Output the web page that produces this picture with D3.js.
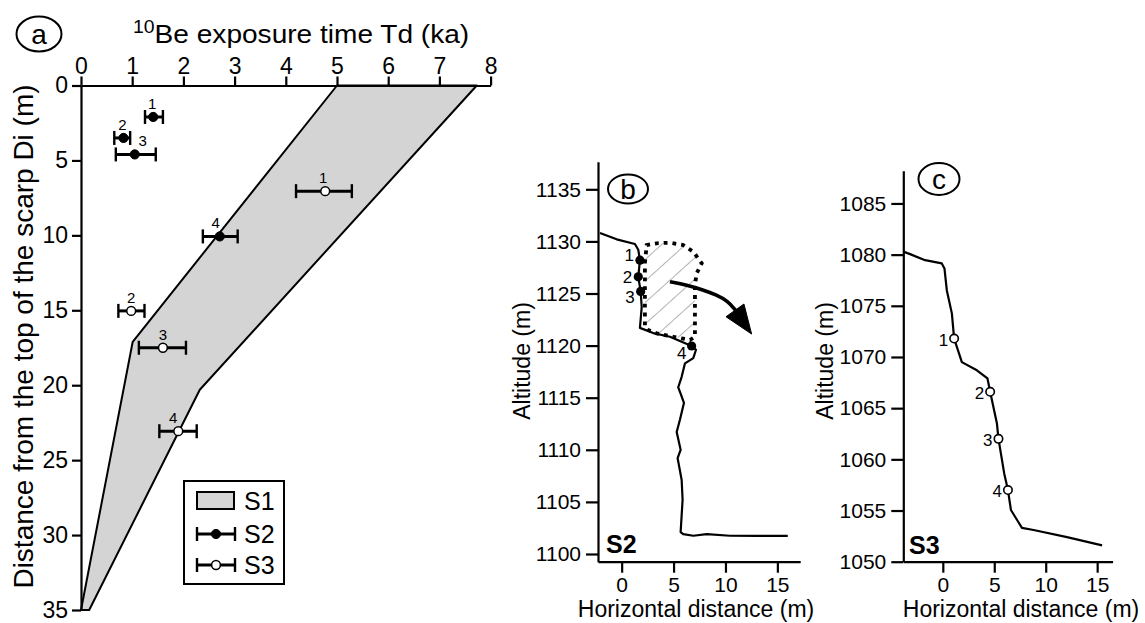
<!DOCTYPE html>
<html>
<head>
<meta charset="utf-8">
<script src="https://cdn.jsdelivr.net/npm/d3@7"></script>
<style>
  html,body{margin:0;padding:0;background:#fff;}
  svg{display:block;}
  text{font-family:'Liberation Sans', Arial, Helvetica, sans-serif;fill:#000;}
</style>
</head>
<body>
<svg id="chart" width="1145" height="623"></svg>
<script>
// ---------------- DATA ----------------
// Panel (a)
const tdTicks = [0,1,2,3,4,5,6,7,8];
const diTicks = [0,5,10,15,20,25,30,35];
const s1LeftTd  = [5.0, 1.01, 0.0];
const s1LeftDi  = [0, 17.1, 35];
const s1RightTd = [7.73, 2.32, 0.16];
const s1RightDi = [0, 20.3, 35];
const sampleLabels = ["1","2","3","4"];
const s2Td = [1.41, 0.83, 1.05, 2.71];
const s2Lo = [1.25, 0.65, 0.68, 2.38];
const s2Hi = [1.60, 0.96, 1.46, 3.06];
const s2Di = [2.1, 3.5, 4.6, 10.07];
const s3Td = [4.77, 0.98, 1.60, 1.90];
const s3Lo = [4.20, 0.73, 1.13, 1.53];
const s3Hi = [5.29, 1.24, 2.05, 2.26];
const s3Di = [7.05, 15.04, 17.5, 23.07];
const legendLabels = ["S1","S2","S3"];

// Panel (b) – profile S2
const bXTicks = [0,5,10,15];
const bYTicks = [1100,1105,1110,1115,1120,1125,1130,1135];
const bProfX = [-2.09,-0.48,1.28,1.6,1.76,1.6,1.83,1.93,1.76,3.04,4.65,6.74,7.16,6.9,6.1,5.78,5.45,5.68,6.0,5.62,5.3,5.68,5.39,5.78,5.87,5.68,5.93,6.9,8.19,10.43,13.0,16.0];
const bProfY = [1130.8,1130.2,1129.75,1129.2,1128.2,1126.6,1125.2,1123.7,1121.7,1121.2,1120.85,1119.96,1119.6,1118.8,1118.3,1117.0,1116.0,1115.4,1114.5,1112.9,1111.7,1110.0,1109.2,1107.1,1105.2,1102.1,1101.9,1101.75,1101.9,1101.75,1101.73,1101.73];
const bSampleX = [1.76, 1.6, 1.83, 6.74];
const bSampleY = [1128.2, 1126.6, 1125.2, 1119.96];
const bBlockX = [2.24,2.41,3.37,4.65,5.93,6.9,7.71,7.23,7.06,7.06,6.58,4.97,3.37,2.56,2.24];
const bBlockY = [1127.93,1129.65,1129.82,1129.88,1129.65,1129.01,1127.9,1126.94,1125.82,1120.85,1120.54,1120.85,1121.18,1121.5,1121.81];
const bArrowX = [4.65, 6.26, 7.86, 9.15, 10.24, 10.98];
const bArrowY = [1126.13, 1125.82, 1125.34, 1124.86, 1124.28, 1123.38];
const bHeadX = [10.05, 11.78, 12.52];
const bHeadY = [1122.77, 1123.99, 1121.11];

// Panel (c) – profile S3
const cXTicks = [0,5,10,15];
const cYTicks = [1050,1055,1060,1065,1070,1075,1080,1085];
const cProfX = [-3.77,-3.18,-1.72,-0.1,0.16,0.39,0.88,1.1,1.85,3.31,4.34,4.6,5.26,5.41,5.97,6.33,6.62,7.69,8.82,12.07,15.48];
const cProfY = [1080.27,1080.05,1079.46,1079.14,1078.65,1076.5,1074.26,1071.8,1069.5,1068.7,1067.9,1066.6,1063.5,1062.0,1058.6,1057.0,1055.05,1053.3,1053.1,1052.4,1051.6];
const cSampleX = [1.1, 4.6, 5.41, 6.33];
const cSampleY = [1071.8, 1066.6, 1062.0, 1057.0];

// ---------------- DRAW ----------------
const svg = d3.select("#chart");
const FS = "'Liberation Sans', Arial, Helvetica, sans-serif";
const fmt = d3.format("d");

function styleAxis(g, fs){
  g.selectAll("path.domain").attr("stroke","#000").attr("stroke-width",2.2);
  g.selectAll(".tick line").attr("stroke","#000").attr("stroke-width",2.2);
  g.selectAll(".tick text").attr("font-size",fs).attr("font-family",FS).attr("fill","#000");
}
function panelBadge(cx, cy, rx, ry, letter){
  svg.append("ellipse").attr("cx",cx).attr("cy",cy).attr("rx",rx).attr("ry",ry)
    .attr("fill","none").attr("stroke","#000").attr("stroke-width",2);
  svg.append("text").attr("x",cx).attr("y",cy).attr("text-anchor","middle")
    .attr("dominant-baseline","central").attr("font-size",28).text(letter);
}

// ===== Panel (a) =====
const ax = d3.scaleLinear().domain([0,8]).range([81,490.6]);
const ay = d3.scaleLinear().domain([0,35]).range([85.5,610]);

// S1 envelope
const s1Pts = s1LeftTd.map((v,i)=>[v,s1LeftDi[i]])
  .concat(s1RightTd.map((v,i)=>[v,s1RightDi[i]]).reverse());
svg.append("path")
  .attr("d", d3.line().x(d=>ax(d[0])).y(d=>ay(d[1]))(s1Pts) + "Z")
  .attr("fill","#d4d4d4").attr("stroke","#000").attr("stroke-width",2).attr("stroke-linejoin","round");

// axes
const gAx = svg.append("g").attr("transform",`translate(0,${ay(0)})`)
  .call(d3.axisTop(ax).tickValues(tdTicks).tickFormat(fmt).tickSize(9).tickSizeOuter(0).tickPadding(3));
styleAxis(gAx, 23);
const gAy = svg.append("g").attr("transform",`translate(${ax(0)},0)`)
  .call(d3.axisLeft(ay).tickValues(diTicks).tickFormat(fmt).tickSize(9).tickSizeOuter(0).tickPadding(4));
styleAxis(gAy, 23);

// error bars
function errBars(td, lo, hi, di, filled, labelDx){
  const g = svg.append("g");
  td.forEach((v,i)=>{
    const y = ay(di[i]);
    g.append("line").attr("x1",ax(lo[i])).attr("x2",ax(hi[i])).attr("y1",y).attr("y2",y)
      .attr("stroke","#000").attr("stroke-width",3);
    [lo[i],hi[i]].forEach(e=>{
      g.append("line").attr("x1",ax(e)).attr("x2",ax(e)).attr("y1",y-7).attr("y2",y+7)
        .attr("stroke","#000").attr("stroke-width",2.4);
    });
    g.append("circle").attr("cx",ax(v)).attr("cy",y).attr("r",filled?4.6:4.4)
      .attr("fill",filled?"#000":"#fff").attr("stroke","#000").attr("stroke-width",filled?1:1.5);
    g.append("text").attr("x",ax(v)+labelDx[i]).attr("y",y-8).attr("text-anchor","middle")
      .attr("font-size",15).text(sampleLabels[i]);
  });
}
errBars(s2Td, s2Lo, s2Hi, s2Di, true, [-1,-1,8,-4]);
errBars(s3Td, s3Lo, s3Hi, s3Di, false, [-2,0,0,-5]);

// title
const title = svg.append("text").attr("transform","translate(133,43) scale(1.08,1)");
title.append("tspan").attr("font-size",18).attr("dy",-10).text("10");
title.append("tspan").attr("font-size",26).attr("dy",10).text("Be exposure time Td (ka)");

// y title
svg.append("text").attr("transform","translate(33,336.5) rotate(-90)")
  .attr("text-anchor","middle").attr("font-size",28)
  .text("Distance from the top of the scarp Di (m)");

panelBadge(39, 34, 22.5, 17.5, "a");

// legend
const lg = svg.append("g");
lg.append("rect").attr("x",184).attr("y",481).attr("width",100).attr("height",103)
  .attr("fill","#fff").attr("stroke","#000").attr("stroke-width",2);
lg.append("rect").attr("x",197).attr("y",492).attr("width",37).attr("height",17)
  .attr("fill","#d4d4d4").attr("stroke","#000").attr("stroke-width",2);
[[534,true],[565,false]].forEach(([yy,filled])=>{
  lg.append("line").attr("x1",197).attr("x2",235).attr("y1",yy).attr("y2",yy).attr("stroke","#000").attr("stroke-width",3);
  [197,235].forEach(xx=>lg.append("line").attr("x1",xx).attr("x2",xx).attr("y1",yy-7).attr("y2",yy+7).attr("stroke","#000").attr("stroke-width",2.4));
  lg.append("circle").attr("cx",216).attr("cy",yy).attr("r",filled?4.6:4.4)
    .attr("fill",filled?"#000":"#fff").attr("stroke","#000").attr("stroke-width",filled?1:1.5);
});
legendLabels.forEach((t,i)=>{
  lg.append("text").attr("x",244).attr("y",[510,543,574][i]).attr("font-size",25).text(t);
});

// ===== Panel (b) =====
const bx = d3.scaleLinear().domain([-2.28,17.2]).range([598,800.2]);
const by = d3.scaleLinear().domain([1099.26,1137.65]).range([561.7,161.7]);

// hatch pattern
const defs = svg.append("defs");
defs.append("pattern").attr("id","hatch").attr("patternUnits","userSpaceOnUse")
  .attr("width",16).attr("height",16).attr("patternTransform","rotate(-42)")
  .append("line").attr("x1",0).attr("y1",0).attr("x2",16).attr("y2",0)
  .attr("stroke","#8a8a8a").attr("stroke-width",1.3);
const blockPts = bBlockX.map((v,i)=>[v,bBlockY[i]]);
const blockPath = d3.line().x(d=>bx(d[0])).y(d=>by(d[1]))(blockPts)+"Z";
svg.append("path").attr("d",blockPath).attr("fill","url(#hatch)").attr("stroke","none");

const gBx = svg.append("g").attr("transform",`translate(0,${by.range()[0]})`)
  .call(d3.axisBottom(bx).tickValues(bXTicks).tickFormat(fmt).tickSize(11).tickSizeOuter(0).tickPadding(4));
styleAxis(gBx, 21);
const gBy = svg.append("g").attr("transform",`translate(${bx.range()[0]},0)`)
  .call(d3.axisLeft(by).tickValues(bYTicks).tickFormat(fmt).tickSize(12).tickSizeOuter(0).tickPadding(5));
styleAxis(gBy, 21);

svg.append("path").attr("d", d3.line().x((d,i)=>bx(d)).y((d,i)=>by(bProfY[i]))(bProfX))
  .attr("fill","none").attr("stroke","#000").attr("stroke-width",2.2).attr("stroke-linejoin","round");

// dotted block outline
svg.append("path").attr("d",blockPath).attr("fill","none").attr("stroke","#000")
  .attr("stroke-width",3.8).attr("stroke-dasharray","3.8,5");

// arrow
svg.append("path").attr("d", d3.line().curve(d3.curveBasis).x(d=>bx(d)).y((d,i)=>by(bArrowY[i]))(bArrowX))
  .attr("fill","none").attr("stroke","#000").attr("stroke-width",3.6);
svg.append("path").attr("d", d3.line().x(d=>bx(d)).y((d,i)=>by(bHeadY[i]))(bHeadX)+"Z")
  .attr("fill","#000").attr("stroke","#000").attr("stroke-width",1).attr("stroke-linejoin","miter");

bSampleX.forEach((v,i)=>{
  svg.append("circle").attr("cx",bx(v)).attr("cy",by(bSampleY[i])).attr("r",4.6).attr("fill","#000");
  const lab = svg.append("text").attr("font-size",17).text(sampleLabels[i]);
  if(i<3) lab.attr("x",bx(v)-6).attr("y",by(bSampleY[i])+[1,6,12][i]).attr("text-anchor","end");
  else lab.attr("x",bx(v)-10).attr("y",by(bSampleY[i])+13).attr("text-anchor","middle");
});

svg.append("text").attr("transform","translate(530,361) rotate(-90)").attr("text-anchor","middle")
  .attr("font-size",23).text("Altitude (m)");
svg.append("text").attr("x",696).attr("y",617).attr("text-anchor","middle").attr("font-size",23).text("Horizontal distance (m)");
svg.append("text").attr("x",606).attr("y",553).attr("font-size",25).attr("font-weight","bold").text("S2");
panelBadge(628, 189, 20, 14.5, "b");

// ===== Panel (c) =====
const cx = d3.scaleLinear().domain([-3.84,16.5]).range([903.3,1112.6]);
const cy = d3.scaleLinear().domain([1050,1088.2]).range([561.7,170.7]);

const gCx = svg.append("g").attr("transform",`translate(0,${cy.range()[0]})`)
  .call(d3.axisBottom(cx).tickValues(cXTicks).tickFormat(fmt).tickSize(11).tickSizeOuter(0).tickPadding(4));
styleAxis(gCx, 21);
const gCy = svg.append("g").attr("transform",`translate(${cx.range()[0]},0)`)
  .call(d3.axisLeft(cy).tickValues(cYTicks).tickFormat(fmt).tickSize(12).tickSizeOuter(0).tickPadding(5));
styleAxis(gCy, 21);

svg.append("path").attr("d", d3.line().curve(d3.curveLinear).x(d=>cx(d)).y((d,i)=>cy(cProfY[i]))(cProfX))
  .attr("fill","none").attr("stroke","#000").attr("stroke-width",2.2).attr("stroke-linejoin","round");

cSampleX.forEach((v,i)=>{
  svg.append("circle").attr("cx",cx(v)).attr("cy",cy(cSampleY[i])).attr("r",4.2)
    .attr("fill","#fff").attr("stroke","#000").attr("stroke-width",1.6);
  svg.append("text").attr("x",cx(v)-6).attr("y",cy(cSampleY[i])+7).attr("text-anchor","end")
    .attr("font-size",17).text(sampleLabels[i]);
});

svg.append("text").attr("transform","translate(833,361) rotate(-90)").attr("text-anchor","middle")
  .attr("font-size",23).text("Altitude (m)");
svg.append("text").attr("x",1021).attr("y",617).attr("text-anchor","middle").attr("font-size",23).text("Horizontal distance (m)");
svg.append("text").attr("x",909).attr("y",554).attr("font-size",25).attr("font-weight","bold").text("S3");
panelBadge(939, 179, 20.5, 16, "c");
</script>
</body>
</html>
